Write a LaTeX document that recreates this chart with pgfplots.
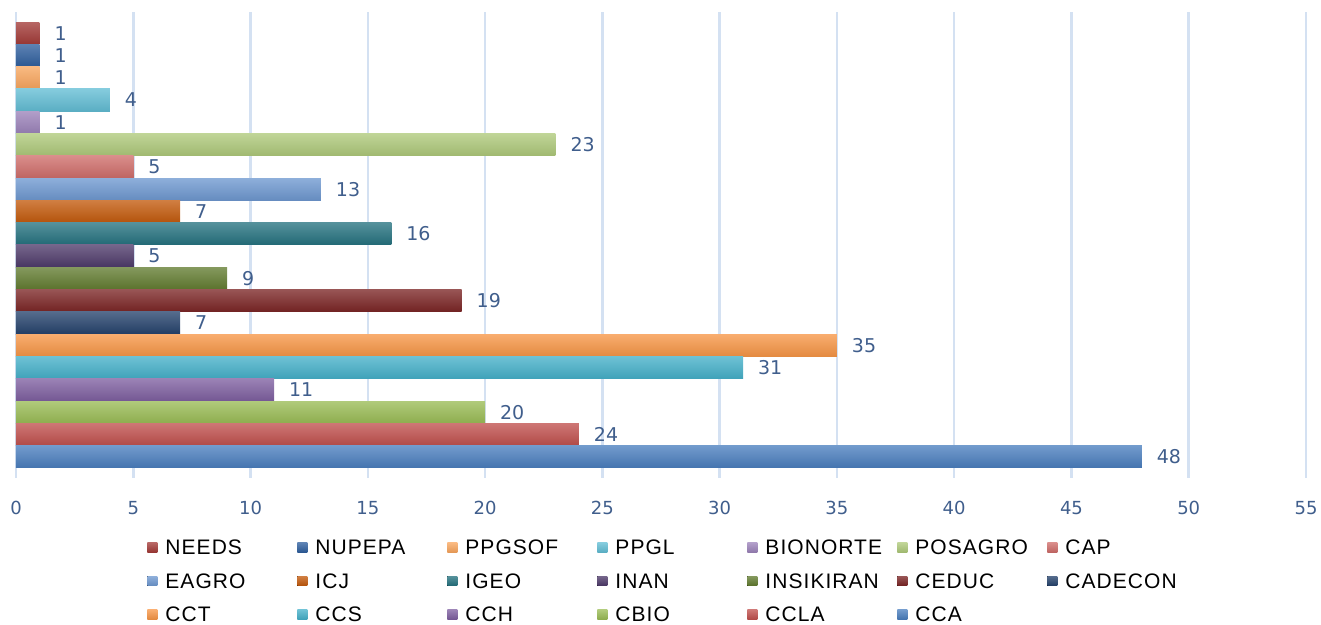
\documentclass[border=0pt]{standalone}
\usepackage{fontspec}
\setmainfont{Liberation Sans}
\newfontfamily\numfont{DejaVu Sans}
\newfontfamily\legfont[LetterSpace=5]{Liberation Sans}
\usepackage{pgfplots}
\pgfplotsset{compat=1.18}

\definecolor{labcol}{RGB}{64,94,140}
\definecolor{gridcol}{RGB}{212,225,242}
\definecolor{cNEEDS}{HTML}{A33B38}
\definecolor{cNUPEPA}{HTML}{2F5F9E}
\definecolor{cPPGSOF}{HTML}{F8A65E}
\definecolor{cPPGL}{HTML}{62BDD4}
\definecolor{cBIONORTE}{HTML}{9C83BA}
\definecolor{cPOSAGRO}{HTML}{AEC97A}
\definecolor{cCAP}{HTML}{CF6D6A}
\definecolor{cEAGRO}{HTML}{6E98D0}
\definecolor{cICJ}{HTML}{C35A0C}
\definecolor{cIGEO}{HTML}{25727F}
\definecolor{cINAN}{HTML}{4E3A6A}
\definecolor{cINSIKIRAN}{HTML}{627C30}
\definecolor{cCEDUC}{HTML}{7B2525}
\definecolor{cCADECON}{HTML}{25426C}
\definecolor{cCCT}{HTML}{F79646}
\definecolor{cCCS}{HTML}{45B0C9}
\definecolor{cCCH}{HTML}{7E5FA0}
\definecolor{cCBIO}{HTML}{9ABC55}
\definecolor{cCCLA}{HTML}{C0504D}
\definecolor{cCCA}{HTML}{4A7EBE}

\pgfplotsset{
  cbar/.style={xbar, bar width=1, bar shift=0, draw=none,
    top color=#1!78!white, bottom color=#1!92!black,
    legend image code/.code={\fill[##1] (0pt,-2.3pt) rectangle (5pt,2.3pt);}},
}

\begin{document}
\begin{tikzpicture}
\path[use as bounding box] (0,0) rectangle (660.5pt,312.5pt);
\begin{axis}[
    at={(8pt,73.5pt)}, anchor=south west,
    scale only axis, width=645pt, height=233pt,
    xmin=0, xmax=55, ymin=-0.95, ymax=19.95,
    xtick={0,5,...,55}, ytick=\empty,
    major tick length=0pt,
    axis line style={draw=none},
    xmajorgrids,
    grid style={gridcol, line width=1.3pt},
    /pgf/number format/assume math mode=true,
    xticklabel style={font=\numfont\fontsize{9}{10}\selectfont, text=labcol, yshift=-8pt},
    point meta=x,
    nodes near coords,
    every node near coord/.append style={font=\numfont\fontsize{9.5}{11}\selectfont,
      text=labcol, anchor=west, xshift=4pt},
    legend columns=7,
    legend cell align=left,
    legend style={at={(0.1016,-0.132)}, anchor=north west, draw=none, fill=none,
      inner sep=0pt, row sep=9.25pt,
      nodes={inner sep=0pt, text height=7.5pt, text depth=0pt},
      /tikz/every odd column/.append style={column sep=4pt},
      font=\legfont\fontsize{10.5}{12}\selectfont},
]
\addplot[cbar=cNEEDS]     coordinates {(1,19)};
\addplot[cbar=cNUPEPA]    coordinates {(1,18)};
\addplot[cbar=cPPGSOF]    coordinates {(1,17)};
\addplot[cbar=cPPGL]      coordinates {(4,16)};
\addplot[cbar=cBIONORTE]  coordinates {(1,15)};
\addplot[cbar=cPOSAGRO]   coordinates {(23,14)};
\addplot[cbar=cCAP]       coordinates {(5,13)};
\addplot[cbar=cEAGRO]     coordinates {(13,12)};
\addplot[cbar=cICJ]       coordinates {(7,11)};
\addplot[cbar=cIGEO]      coordinates {(16,10)};
\addplot[cbar=cINAN]      coordinates {(5,9)};
\addplot[cbar=cINSIKIRAN] coordinates {(9,8)};
\addplot[cbar=cCEDUC]     coordinates {(19,7)};
\addplot[cbar=cCADECON]   coordinates {(7,6)};
\addplot[cbar=cCCT]       coordinates {(35,5)};
\addplot[cbar=cCCS]       coordinates {(31,4)};
\addplot[cbar=cCCH]       coordinates {(11,3)};
\addplot[cbar=cCBIO]      coordinates {(20,2)};
\addplot[cbar=cCCLA]      coordinates {(24,1)};
\addplot[cbar=cCCA]       coordinates {(48,0)};
\legend{\makebox[66pt][l]{NEEDS}, \makebox[66pt][l]{NUPEPA}, \makebox[66pt][l]{PPGSOF},
  \makebox[66pt][l]{PPGL}, \makebox[66pt][l]{BIONORTE}, \makebox[66pt][l]{POSAGRO},
  \makebox[66pt][l]{CAP}, \makebox[66pt][l]{EAGRO}, \makebox[66pt][l]{ICJ},
  \makebox[66pt][l]{IGEO}, \makebox[66pt][l]{INAN}, \makebox[66pt][l]{INSIKIRAN},
  \makebox[66pt][l]{CEDUC}, \makebox[66pt][l]{CADECON}, \makebox[66pt][l]{CCT},
  \makebox[66pt][l]{CCS}, \makebox[66pt][l]{CCH}, \makebox[66pt][l]{CBIO},
  \makebox[66pt][l]{CCLA}, \makebox[66pt][l]{CCA}}
\end{axis}
\end{tikzpicture}
\end{document}
